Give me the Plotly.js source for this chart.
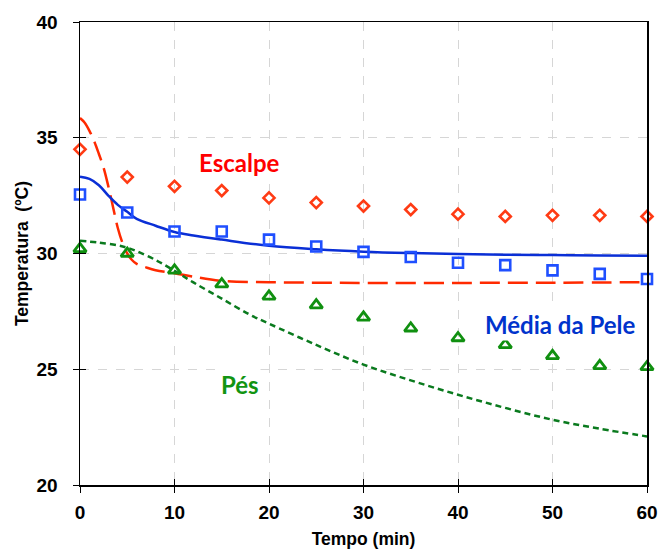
<!DOCTYPE html>
<html>
<head>
<meta charset="utf-8">
<script src="https://cdn.plot.ly/plotly-3.0.1.min.js"></script>
<style>html,body{margin:0;padding:0;background:#fff;}#chart{width:658px;height:549px;}</style>
</head>
<body>
<div id="chart"></div>
<script>
// Observed values (markers)
const obsTime = [0, 5, 10, 15, 20, 25, 30, 35, 40, 45, 50, 55, 60];
const escalpeObs = [34.5, 33.3, 32.9, 32.72, 32.4, 32.2, 32.05, 31.9, 31.7, 31.6, 31.65, 31.65, 31.6];
const mediaObs = [32.55, 31.77, 30.95, 30.95, 30.6, 30.3, 30.07, 29.85, 29.6, 29.5, 29.27, 29.12, 28.9];
const pesObs = [30.2, 30.0, 29.27, 28.68, 28.15, 27.77, 27.24, 26.77, 26.35, 26.05, 25.58, 25.15, 25.1];

// Model curves (lines)
const escalpeModelTime = [0, 0.5, 1, 1.5, 2, 2.5, 3, 3.5, 4, 4.5, 5, 5.5, 6, 7, 8, 10, 12, 15, 20, 25, 30, 40, 50, 60];
const escalpeModel = [35.85, 35.65, 35.3, 34.85, 34.3, 33.7, 32.9, 32.0, 31.1, 30.45, 30.0, 29.72, 29.55, 29.4, 29.28, 29.15, 29.0, 28.82, 28.76, 28.74, 28.73, 28.73, 28.74, 28.76];
const mediaModelTime = [0, 1, 2, 3, 4, 5, 6, 8, 10, 12, 15, 20, 25, 30, 35, 40, 45, 50, 55, 60];
const mediaModel = [33.32, 33.22, 32.95, 32.5, 32.1, 31.8, 31.5, 31.2, 30.93, 30.78, 30.6, 30.33, 30.18, 30.08, 30.02, 29.98, 29.95, 29.93, 29.91, 29.9];
const pesModelTime = [0, 2, 4, 5, 6, 8, 10, 12, 15, 18, 20, 25, 30, 35, 40, 45, 50, 55, 60];
const pesModel = [30.55, 30.47, 30.35, 30.25, 30.1, 29.72, 29.25, 28.75, 28.05, 27.35, 26.97, 26.05, 25.2, 24.52, 23.9, 23.33, 22.82, 22.43, 22.1];

// Labels
const xTicks = [0, 10, 20, 30, 40, 50, 60];
const yTicks = [20, 25, 30, 35, 40];
const xTitle = 'Tempo (min)';
const yTitle = 'Temperatura\u00a0\u00a0(ºC)';
const seriesLabels = ['Escalpe', 'Média da Pele', 'Pés'];
const labelX = [16.9, 50.8, 16.9];
const labelY = [33.93, 26.93, 24.33];

const RED_LINE = '#ff2a00', RED_MK = '#ff3b14', RED_TXT = '#ff0000';
const BLUE_LINE = '#0a2fd6', BLUE_MK = '#1f4fff', BLUE_TXT = '#0033cc';
const GREEN_LINE = '#0a7a1e', GREEN_MK = '#109010', GREEN_TXT = '#129412';

const traces = [
  {x: escalpeModelTime, y: escalpeModel, mode: 'lines', line: {color: RED_LINE, width: 2.5, dash: '20px,8px', shape: 'spline'}, hoverinfo: 'skip'},
  {x: mediaModelTime, y: mediaModel, mode: 'lines', line: {color: BLUE_LINE, width: 2.5, shape: 'spline'}, hoverinfo: 'skip'},
  {x: pesModelTime, y: pesModel, mode: 'lines', line: {color: GREEN_LINE, width: 2.5, dash: '6px,4px', shape: 'spline'}, hoverinfo: 'skip'},
  {x: obsTime, y: escalpeObs, mode: 'markers', marker: {symbol: 'diamond-open', size: 8.5, color: RED_MK, line: {width: 2.6, color: RED_MK}}, cliponaxis: false},
  {x: obsTime, y: mediaObs, mode: 'markers', marker: {symbol: 'square-open', size: 10, color: BLUE_MK, line: {width: 2.6, color: BLUE_MK}}, cliponaxis: false},
  {x: obsTime, y: pesObs, mode: 'markers', marker: {symbol: 'triangle-up-open', size: 11, color: GREEN_MK, line: {width: 2.8, color: GREEN_MK}}, cliponaxis: false}
];

const tickFont = {family: '"Liberation Sans", Arial, sans-serif', size: 19, color: '#000', weight: 'bold'};
const titleFont = {family: '"Liberation Sans", Arial, sans-serif', size: 17.5, color: '#000', weight: 'bold'};
const labelColors = [RED_TXT, BLUE_TXT, GREEN_TXT];

const layout = {
  width: 658, height: 549,
  margin: {l: 80, r: 11, t: 22, b: 64},
  paper_bgcolor: '#fff', plot_bgcolor: '#fff',
  showlegend: false,
  xaxis: {
    range: [0, 60], tickvals: xTicks, ticktext: xTicks.map(String),
    ticks: 'outside', ticklen: 6, tickwidth: 1, tickcolor: '#000',
    showline: true, linecolor: '#000', linewidth: 1.5, mirror: true,
    showgrid: true, gridcolor: '#d6d6d6', griddash: 'dash', gridwidth: 1,
    zeroline: false, tickfont: tickFont, ticklabelstandoff: 4,
    title: {text: xTitle, font: titleFont, standoff: 10}
  },
  yaxis: {
    range: [20, 40], tickvals: yTicks, ticktext: yTicks.map(String),
    ticks: 'outside', ticklen: 6, tickwidth: 1, tickcolor: '#000',
    showline: true, linecolor: '#000', linewidth: 1.5, mirror: true,
    showgrid: true, gridcolor: '#d6d6d6', griddash: 'dash', gridwidth: 1,
    zeroline: false, tickfont: tickFont, ticklabelstandoff: 11,
    title: {text: yTitle, font: titleFont, standoff: 3}
  },
  xaxis2: {range: [0, 60], overlaying: 'x', anchor: 'y', tickvals: xTicks, ticks: 'inside', ticklen: 6, tickcolor: '#000', showticklabels: false, showgrid: false, showline: false, zeroline: false},
  yaxis2: {range: [20, 40], overlaying: 'y', anchor: 'x', side: 'left', tickvals: yTicks, ticks: 'inside', ticklen: 6, tickcolor: '#000', showticklabels: false, showgrid: false, showline: false, zeroline: false},
  annotations: seriesLabels.map((t, i) => ({
    x: labelX[i], y: labelY[i], xref: 'x', yref: 'y', text: t, showarrow: false,
    font: {family: 'Lato, "Open Sans", sans-serif', size: 24, color: labelColors[i], weight: 'bold'},
    bgcolor: '#fff', borderpad: 1
  }))
};

// dummy trace to activate overlay axes
traces.push({x: [0], y: [20], xaxis: 'x2', yaxis: 'y2', mode: 'markers', marker: {opacity: 0}, hoverinfo: 'skip'});

Plotly.newPlot('chart', traces, layout, {displayModeBar: false, staticPlot: true});
</script>
</body>
</html>
